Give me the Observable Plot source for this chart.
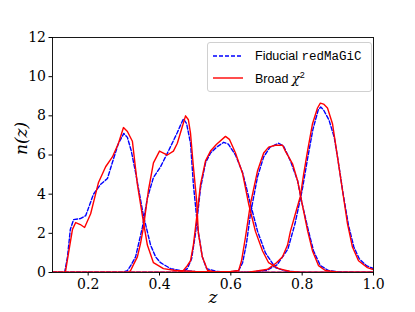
<!DOCTYPE html>
<html>
<head>
<meta charset="utf-8">
<script src="https://cdn.jsdelivr.net/npm/d3@7"></script>
<script src="https://cdn.jsdelivr.net/npm/@observablehq/plot@0.6"></script>
<style>
  body { margin: 0; background: #fff; }
  #wrap { position: relative; width: 415px; height: 312px; }
  #chart svg text { font-family: "DejaVu Serif", serif !important; }
  #legend {
    position: absolute; left: 207px; top: 42px; width: 163px; height: 48px;
    border: 1px solid #d0d0d0; border-radius: 3px; background: rgba(255,255,255,0.85);
    font-family: "Liberation Sans", sans-serif; font-size: 12.5px; color: #000;
  }
  .row { position: absolute; left: 5px; height: 18px; display: flex; align-items: center; white-space: nowrap; }
  .row svg { margin-right: 12px; }
  .mono { font-family: "Liberation Mono", monospace; font-size: 12.5px; }
</style>
</head>
<body>
<div id="wrap">
  <div id="chart"></div>
  <div id="legend">
    <div class="row" style="top:4px"><svg width="30" height="6"><line x1="0" y1="3" x2="30" y2="3" stroke="#0000ff" stroke-width="1.4" stroke-dasharray="4,2"/></svg><span>Fiducial <span class="mono">redMaGiC</span></span></div>
    <div class="row" style="top:26px"><svg width="30" height="6"><line x1="0" y1="3" x2="30" y2="3" stroke="#ff0000" stroke-width="1.4"/></svg><span>Broad <i style="font-family:'DejaVu Serif',serif;font-size:13px">χ</i><sup style="font-size:9px">2</sup></span></div>
  </div>
</div>
<script>
// Fiducial redMaGiC n(z), five redshift bins: [z, n]
const fiducialBin1 = [[0.10,0],[0.134,0],[0.142,0.8],[0.150,2.2],[0.159,2.7],[0.178,2.75],[0.193,2.9],[0.215,4.0],[0.235,4.5],[0.254,4.8],[0.271,5.8],[0.285,6.6],[0.300,7.1],[0.310,6.9],[0.321,6.2],[0.333,5.1],[0.344,4.0],[0.355,2.9],[0.375,1.4],[0.389,0.8],[0.403,0.5],[0.431,0.2],[0.459,0.1],[0.50,0.05],[0.60,0],[1.0,0]];
const fiducialBin2 = [[0.10,0],[0.296,0],[0.310,0.1],[0.321,0.4],[0.333,0.8],[0.352,2.3],[0.366,3.8],[0.383,4.85],[0.403,5.4],[0.425,6.2],[0.450,7.15],[0.467,7.85],[0.476,7.6],[0.487,6.6],[0.495,4.5],[0.507,2.3],[0.520,0.8],[0.532,0.2],[0.56,0.05],[0.60,0],[1.0,0]];
const fiducialBin3 = [[0.10,0],[0.45,0],[0.467,0.05],[0.478,0.2],[0.490,0.7],[0.501,2.0],[0.515,4.3],[0.529,5.6],[0.543,6.1],[0.560,6.4],[0.580,6.65],[0.593,6.55],[0.613,6.0],[0.633,5.1],[0.655,3.5],[0.675,2.1],[0.697,1.0],[0.725,0.25],[0.753,0.08],[0.80,0],[1.0,0]];
const fiducialBin4 = [[0.10,0],[0.55,0],[0.60,0.03],[0.622,0.1],[0.633,0.5],[0.644,1.5],[0.655,3.0],[0.675,4.9],[0.692,5.9],[0.710,6.4],[0.734,6.6],[0.748,6.45],[0.767,5.7],[0.787,4.7],[0.800,3.5],[0.818,2.1],[0.832,1.1],[0.851,0.35],[0.874,0.1],[0.90,0.03],[0.95,0],[1.0,0]];
const fiducialBin5 = [[0.10,0],[0.60,0],[0.65,0.02],[0.70,0.1],[0.73,0.4],[0.76,1.2],[0.78,2.5],[0.80,4.2],[0.815,5.8],[0.83,7.3],[0.845,8.3],[0.852,8.45],[0.86,8.3],[0.875,7.8],[0.89,6.9],[0.90,5.8],[0.915,4.0],[0.93,2.4],[0.945,1.3],[0.96,0.7],[0.98,0.35],[1.0,0.2]];

// Broad chi^2 n(z), five redshift bins: [z, n]
const broadBin1 = [[0.10,0],[0.136,0],[0.145,1.0],[0.156,2.2],[0.165,2.55],[0.178,2.45],[0.190,2.3],[0.207,3.0],[0.229,4.6],[0.249,5.4],[0.268,5.9],[0.285,6.6],[0.299,7.4],[0.310,7.2],[0.324,6.7],[0.338,4.5],[0.352,2.9],[0.366,1.4],[0.383,0.5],[0.411,0.2],[0.445,0.1],[0.50,0.05],[0.60,0],[1.0,0]];
const broadBin2 = [[0.10,0],[0.313,0],[0.319,0.1],[0.327,0.4],[0.338,0.8],[0.347,1.5],[0.355,2.3],[0.369,4.2],[0.383,5.6],[0.400,6.2],[0.411,6.1],[0.422,6.0],[0.439,6.2],[0.450,6.6],[0.459,7.15],[0.473,8.0],[0.481,7.8],[0.487,7.1],[0.495,5.4],[0.504,3.7],[0.509,2.0],[0.520,0.8],[0.535,0.1],[0.56,0.02],[0.60,0],[1.0,0]];
const broadBin3 = [[0.10,0],[0.44,0],[0.459,0.02],[0.467,0.1],[0.478,0.35],[0.487,0.6],[0.495,1.4],[0.501,2.3],[0.515,4.5],[0.529,5.7],[0.543,6.2],[0.560,6.55],[0.585,6.95],[0.596,6.8],[0.613,6.1],[0.633,5.05],[0.650,3.5],[0.669,2.1],[0.689,1.1],[0.706,0.5],[0.734,0.2],[0.767,0.05],[0.80,0],[1.0,0]];
const broadBin4 = [[0.10,0],[0.50,0],[0.55,0.02],[0.60,0.05],[0.622,0.1],[0.630,0.6],[0.641,1.8],[0.655,3.5],[0.675,5.2],[0.692,6.1],[0.706,6.4],[0.725,6.5],[0.745,6.5],[0.753,6.2],[0.773,5.55],[0.787,4.7],[0.800,3.5],[0.815,2.15],[0.829,1.1],[0.846,0.35],[0.865,0.1],[0.90,0.02],[0.95,0],[1.0,0]];
const broadBin5 = [[0.10,0],[0.60,0],[0.65,0.02],[0.70,0.15],[0.706,0.2],[0.728,0.5],[0.745,0.8],[0.759,1.4],[0.767,2.1],[0.781,3.0],[0.795,3.9],[0.804,5.0],[0.815,6.2],[0.829,7.6],[0.843,8.4],[0.851,8.65],[0.860,8.6],[0.871,8.4],[0.885,7.6],[0.899,5.9],[0.913,4.2],[0.927,2.5],[0.941,1.3],[0.958,0.6],[0.983,0.25],[1.0,0.15]];

const xTicks = [0.2, 0.4, 0.6, 0.8, 1.0];
const yTicks = [0, 2, 4, 6, 8, 10, 12];

const toRows = (bins, name) => bins.flatMap((b, i) => b.map(([z, n]) => ({z, n, bin: name + (i + 1)})));
const fidRows = toRows([fiducialBin1, fiducialBin2, fiducialBin3, fiducialBin4, fiducialBin5], "fid");
const broadRows = toRows([broadBin1, broadBin2, broadBin3, broadBin4, broadBin5], "broad");

const serif = "'DejaVu Serif', serif";
const chart = Plot.plot({
  width: 415, height: 312,
  marginLeft: 52, marginRight: 42, marginTop: 37, marginBottom: 40,
  style: {fontFamily: serif, fontSize: "14px", color: "#000", background: "#fff"},
  x: {domain: [0.1, 1.0], label: null},
  y: {domain: [0, 12], label: null},
  marks: [
    Plot.line(fidRows, {x: "z", y: "n", z: "bin", stroke: "#0000ff", strokeWidth: 1.4, strokeDasharray: "4,2", clip: true}),
    Plot.line(broadRows, {x: "z", y: "n", z: "bin", stroke: "#ff0000", strokeWidth: 1.4, clip: true}),
    Plot.frame({stroke: "#000", strokeWidth: 0.9}),
    Plot.axisX({ticks: xTicks, tickSize: 3.5, tickPadding: 3, tickFormat: d => d.toFixed(1), label: null, fontFamily: serif, fontSize: 14}),
    Plot.axisY({ticks: yTicks, tickSize: 3.5, tickPadding: 3, tickFormat: d => String(d), label: null, fontFamily: serif, fontSize: 14}),
    Plot.text(["z"], {frameAnchor: "bottom", dy: 30, fontStyle: "italic", fontFamily: serif, fontSize: 17, text: d => d}),
    Plot.text(["n(z)"], {frameAnchor: "left", dx: -31, rotate: -90, fontStyle: "italic", fontFamily: serif, fontSize: 17, text: d => d})
  ]
});
document.getElementById("chart").appendChild(chart);
</script>
</body>
</html>
